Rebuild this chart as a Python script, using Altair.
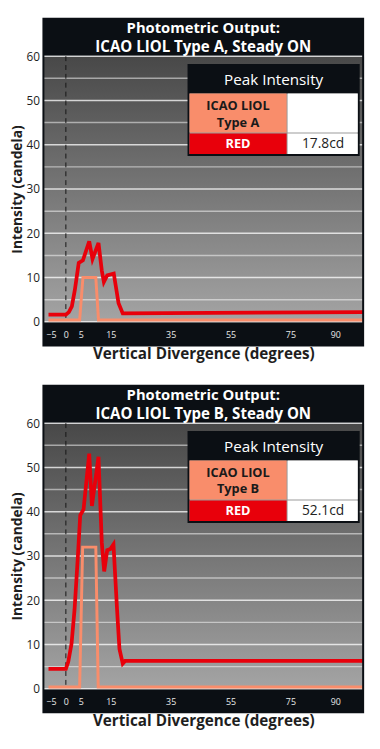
import altair as alt
import pandas as pd

FONT = "Open Sans"

# ---------------- data ----------------
x_ticks = [-5, 0, 5, 15, 35, 55, 75, 90]
y_major = [0, 10, 20, 30, 40, 50, 60]
y_minor = [5, 15, 25, 35, 45, 55]
ref_x = [0]

a_red_x = [-5.8, 0, 1, 2, 3, 4.3, 5.7, 7.8, 8.9, 10.9, 12, 12.7, 13.8, 16, 17.6, 19, 99.3]
a_red_y = [1.6, 1.6, 2.2, 3.5, 7.2, 13.3, 13.9, 18.2, 14.2, 17.8, 11.6, 9.0, 10.5, 10.9, 4.2, 1.9, 2.2]
a_std_x = [-5.8, 4.6, 5.7, 10, 10.9, 99.3]
a_std_y = [0.4, 0.4, 10, 10, 0.4, 0.4]

b_red_x = [-5.8, 0, 0.8, 1.9, 2.9, 4.0, 4.8, 5.9, 7.8, 8.7, 10.9, 12.0, 12.8, 13.8, 14.9, 15.9, 17.1, 17.9, 19, 19.8, 99.3]
b_red_y = [4.5, 4.5, 6.1, 10.2, 17.9, 29.8, 39.2, 40.5, 53.1, 41.3, 52.4, 33, 26.5, 31.3, 31.6, 32.6, 17.9, 9.0, 5.7, 6.3, 6.3]
b_std_x = [-5.8, 4.6, 5.6, 10, 10.8, 99.3]
b_std_y = [0.4, 0.4, 32, 32, 0.4, 0.4]

titles = ["ICAO LIOL Type A, Steady ON", "ICAO LIOL Type B, Steady ON"]
types = ["Type A", "Type B"]
peaks = ["17.8cd", "52.1cd"]

# ---------------- style / layout ----------------
W, H = 325, 270
R = W - 327
DARK = "#0b0f14"
RED = "#e8000b"
ORANGE = "#f98d6b"
one = pd.DataFrame({"k": [0]})

xs = alt.Scale(domain=[-7.5, 99.3], nice=False, zero=False)
ys = alt.Scale(domain=[0, 60], nice=False, zero=False)

xaxis = alt.Axis(values=x_ticks, title="Vertical Divergence (degrees)", grid=False,
                 domain=False, ticks=False, labelColor="#e8e8e8", labelFont=FONT,
                 labelFontSize=9, labelPadding=9, labelFlush=False,
                 titleFont=FONT, titleFontSize=15.5, titleFontWeight="bold",
                 titleColor="#1e1e1e", titlePadding=7, zindex=1)
yaxis = alt.Axis(values=y_major, title="Intensity (candela)", grid=False,
                 domain=False, ticks=False, labelColor="#1e1e1e", labelFont=FONT,
                 labelFontSize=12, labelPadding=4, titleFont=FONT, titleFontSize=14,
                 titleFontWeight="bold", titleColor="#1e1e1e", titlePadding=2)


def box(x1, x2, y1, y2, fill):
    return alt.Chart(one).mark_rect(fill=fill).encode(
        x=alt.value(x1), x2=alt.value(x2), y=alt.value(y1), y2=alt.value(y2))


def label(txt, x, y, size, color, weight="normal"):
    return alt.Chart(one).mark_text(text=txt, font=FONT, fontSize=size, color=color,
                                    fontWeight=weight, align="center",
                                    baseline="middle").encode(
        x=alt.value(x), y=alt.value(y))


def panel(i, std_x, std_y, red_x, red_y):
    grad = alt.LinearGradient(gradient="linear",
                              stops=[alt.GradientStop(color="#484848", offset=0),
                                     alt.GradientStop(color="#a4a4a4", offset=1)],
                              x1=0, x2=0, y1=0, y2=1)
    bg = alt.Chart(one).mark_rect(fill=grad).encode(
        x=alt.value(0), x2=alt.value(W), y=alt.value(0), y2=alt.value(H))
    top_band = box(0, W, -38, 0, DARK)
    bot_band = box(0, W, H, H + 24, DARK)

    major = alt.Chart(pd.DataFrame({"v": y_major})).mark_rule(
        color="white", opacity=0.75, strokeWidth=1.5).encode(
        y=alt.Y("v:Q", scale=ys, axis=yaxis))
    minor = alt.Chart(pd.DataFrame({"v": y_minor})).mark_rule(
        color="white", opacity=0.5, strokeWidth=1.5).encode(
        y=alt.Y("v:Q", scale=ys, axis=yaxis))
    dash = alt.Chart(pd.DataFrame({"v": ref_x})).mark_rule(
        color="#151515", strokeWidth=1, strokeDash=[5, 4]).encode(
        x=alt.X("v:Q", scale=xs, axis=xaxis))

    std = alt.Chart(pd.DataFrame({"x": std_x, "y": std_y})).mark_line(
        color=ORANGE, strokeWidth=3).encode(
        x=alt.X("x:Q", scale=xs, axis=xaxis), y=alt.Y("y:Q", scale=ys, axis=yaxis))
    red = alt.Chart(pd.DataFrame({"x": red_x, "y": red_y})).mark_line(
        color=RED, strokeWidth=3.8).encode(
        x=alt.X("x:Q", scale=xs, axis=xaxis), y=alt.Y("y:Q", scale=ys, axis=yaxis))

    tbl = [
        box(148.5 + R, 323.5 + R, 8, 101.5, DARK),
        box(150.5 + R, 321.5 + R, 38, 99.5, "#9a9a9a"),
        box(150.5 + R, 249.2 + R, 38, 77.6, ORANGE),
        box(250.2 + R, 321.5 + R, 38, 77.6, "white"),
        box(150.5 + R, 249.2 + R, 78.6, 99.5, RED),
        box(250.2 + R, 321.5 + R, 78.6, 99.5, "white"),
        label("Peak Intensity", 236 + R, 24, 15.5, "white"),
        label("ICAO LIOL", 199.8 + R, 50.5, 13, "#1a1a1a", "bold"),
        label(types[i], 199.8 + R, 67.5, 13, "#1a1a1a", "bold"),
        label("RED", 199.8 + R, 89.3, 13, "white", "bold"),
        label(peaks[i], 286.3 + R, 89.3, 14, "#222222"),
    ]
    frame = alt.Chart(one).mark_rect(fillOpacity=0, stroke=DARK, strokeWidth=2).encode(
        x=alt.value(0), x2=alt.value(W), y=alt.value(-38), y2=alt.value(H + 24))
    t1 = label("Photometric Output:", W / 2, -29, 15, "white", "bold")
    t2 = label(titles[i], W / 2, -9.5, 15.3, "white", "bold")

    return alt.layer(bg, top_band, bot_band, minor, major, dash, std, red,
                     *tbl, frame, t1, t2).properties(width=W, height=H)


top = panel(0, a_std_x, a_std_y, a_red_x, a_red_y)
bottom = panel(1, b_std_x, b_std_y, b_red_x, b_red_y)

chart = alt.vconcat(top, bottom, spacing=103, bounds="flush").properties(
    padding={"left": 1, "top": 3, "right": 0, "bottom": 0}
).configure_view(strokeWidth=0).configure(background="white")

chart.save("out.html", embed_options={"renderer": "svg", "actions": False})
